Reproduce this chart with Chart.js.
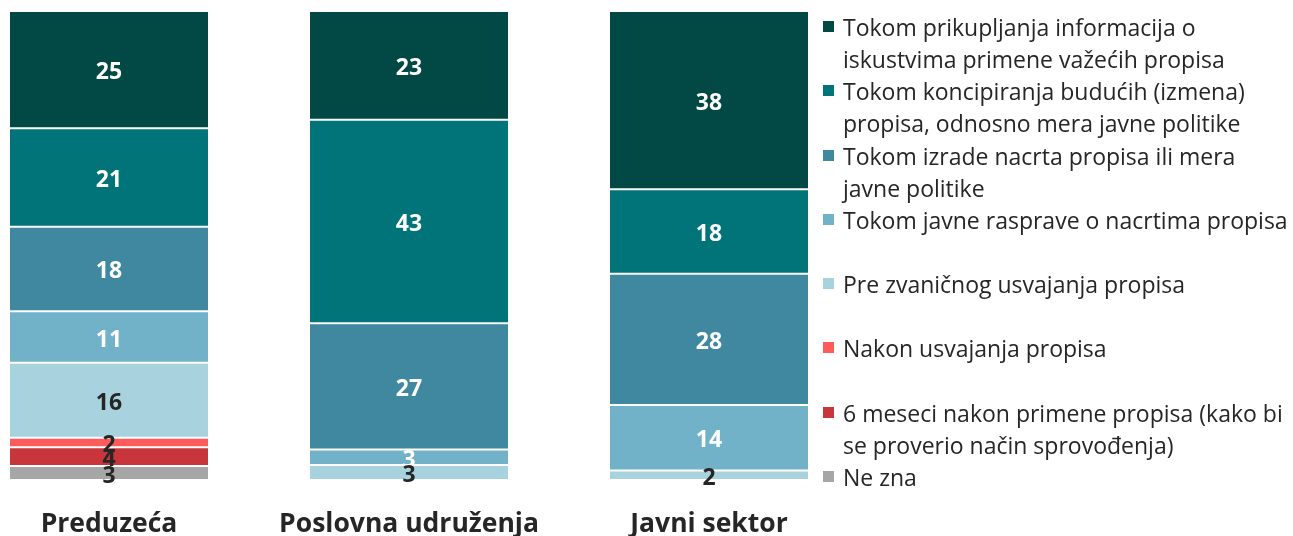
<!DOCTYPE html>
<html lang="sr">
<head>
  <meta charset="UTF-8">
  <title>Faze konsultacija</title>
  <script src="https://cdn.jsdelivr.net/npm/chart.js"></script>
  <style>
    html, body { margin: 0; padding: 0; background: #fff; }
    body { width: 1293px; height: 536px; position: relative; overflow: hidden; font-family: "Open Sans", sans-serif; }
    #wrap { position: absolute; left: -41px; top: 0; width: 900px; height: 536px; }
    #legend { position: absolute; left: 823px; top: 11px; color: #262626; font-size: 23px; }
    .item { position: relative; height: 64.3px; padding-left: 20px; line-height: 32px; white-space: nowrap; }
    .item .box { position: absolute; left: 0; top: 10px; width: 11px; height: 11px; }
  </style>
</head>
<body>
  <div id="wrap"><canvas id="chart"></canvas></div>
  <div id="legend"></div>

  <script>
    const categories = ["Preduzeća", "Poslovna udruženja", "Javni sektor"];

    const seriesNames = [
      ["Tokom prikupljanja informacija o", "iskustvima primene važećih propisa"],
      ["Tokom koncipiranja budućih (izmena)", "propisa, odnosno mera javne politike"],
      ["Tokom izrade nacrta propisa ili mera", "javne politike"],
      ["Tokom javne rasprave o nacrtima propisa"],
      ["Pre zvaničnog usvajanja propisa"],
      ["Nakon usvajanja propisa"],
      ["6 meseci nakon primene propisa (kako bi", "se proverio način sprovođenja)"],
      ["Ne zna"]
    ];

    // values per series, one per category (bar 2)
    const prikupljanje = [25, 23.2, 38];
    const koncipiranje = [21, 43.4, 18];
    const izrada = [18, 26.9, 28];
    const rasprava = [11, 3.3, 14];
    const preUsvajanja = [16, 3.2, 2];
    const nakonUsvajanja = [2, 0, 0];
    const sestMeseci = [4, 0, 0];
    const neZna = [3, 0, 0];

    const seriesValues = [prikupljanje, koncipiranje, izrada, rasprava, preUsvajanja, nakonUsvajanja, sestMeseci, neZna];
    const colors = ["#024845", "#01747A", "#3F88A0", "#72B2C9", "#A9D2DF", "#FF5B5B", "#C8363C", "#A6A6A6"];
    const labelColors = ["#fff", "#fff", "#fff", "#fff", "#262626", "#262626", "#262626", "#262626"];

    // html legend with the same line breaks as the original
    const legend = document.getElementById("legend");
    seriesNames.forEach((lines, i) => {
      const div = document.createElement("div");
      div.className = "item";
      div.innerHTML = `<span class="box" style="background:${colors[i]}"></span>` + lines.join("<br>");
      legend.appendChild(div);
    });

    const segmentLabels = {
      id: "segmentLabels",
      afterDatasetsDraw(chart) {
        const ctx = chart.ctx;
        ctx.save();
        ctx.font = "bold 23px 'Open Sans'";
        ctx.textAlign = "center";
        ctx.textBaseline = "middle";
        chart.data.datasets.forEach((ds, i) => {
          const meta = chart.getDatasetMeta(i);
          meta.data.forEach((bar, j) => {
            const v = ds.data[j];
            if (!v) return;
            ctx.fillStyle = labelColors[i];
            ctx.fillText(Math.round(v), bar.x, (bar.y + bar.base) / 2 + 3);
          });
        });
        ctx.restore();
      }
    };

    new Chart(document.getElementById("chart"), {
      type: "bar",
      data: {
        labels: categories,
        datasets: seriesValues.map((vals, i) => ({
          label: seriesNames[i].join(" "),
          data: vals,
          backgroundColor: colors[i],
          borderColor: "#fff",
          borderWidth: { top: 1, bottom: 1, left: 0, right: 0 },
          borderSkipped: false,
          barPercentage: 0.66,
          categoryPercentage: 1
        }))
      },
      options: {
        responsive: true,
        maintainAspectRatio: false,
        animation: false,
        layout: { padding: { top: 11, left: 0, right: 0, bottom: 0 } },
        plugins: { legend: { display: false }, tooltip: { enabled: false } },
        scales: {
          x: {
            stacked: true,
            grid: { display: false, drawTicks: false },
            border: { display: false },
            ticks: { color: "#262626", font: { family: "Open Sans", size: 26.5, weight: "bold" }, padding: 29 },
            afterFit(scale) { scale.height = 56; }
          },
          y: {
            stacked: true,
            display: false,
            reverse: true,
            min: 0,
            max: 100
          }
        }
      },
      plugins: [segmentLabels]
    });
  </script>
</body>
</html>
